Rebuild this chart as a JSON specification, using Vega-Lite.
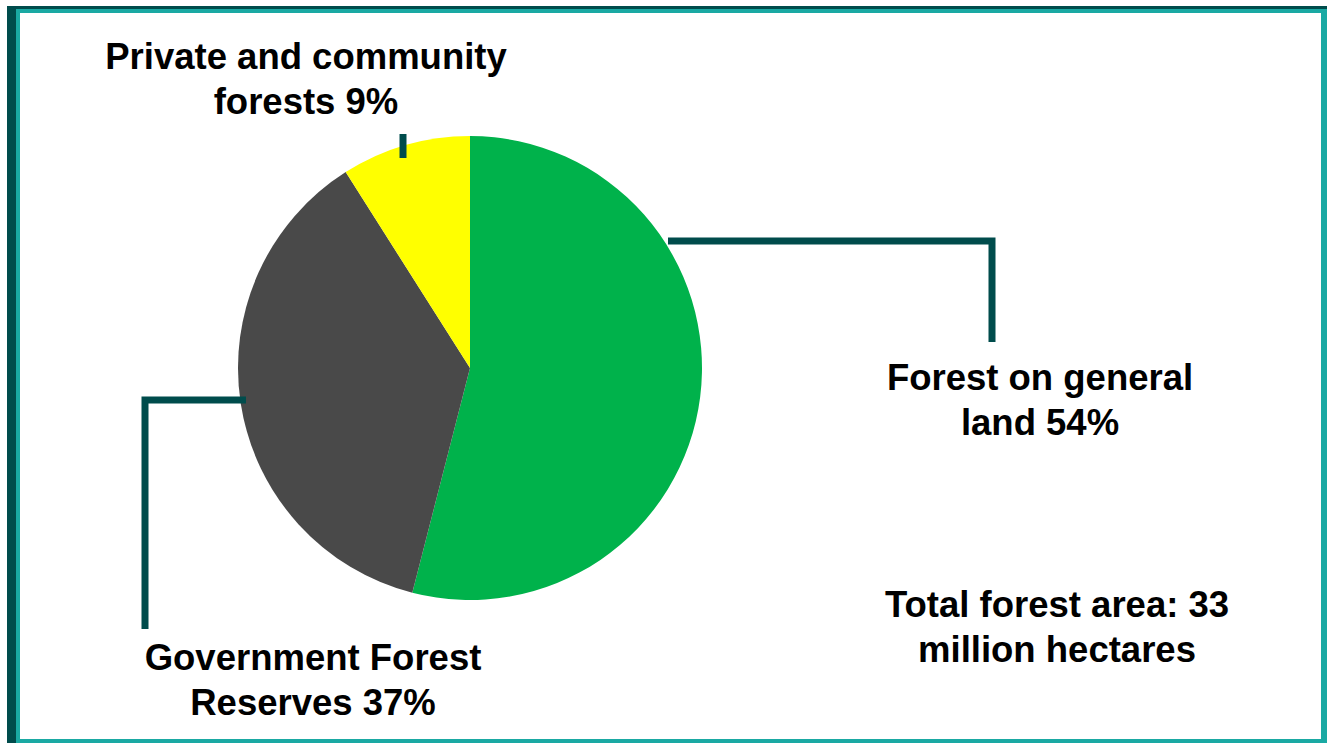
{
  "$schema": "https://vega.github.io/schema/vega-lite/v6.json",
  "width": 1327,
  "height": 743,
  "autosize": {"type": "fit", "contains": "padding"},
  "padding": 0,
  "background": "white",
  "config": {"view": {"stroke": null}},
  "resolve": {"scale": {"color": "independent"}},
  "datasets": {
    "frame": [
      {"part": "shadow", "x": 7, "x2": 1327, "y": 6, "y2": 743},
      {"part": "edge", "x": 16, "x2": 1327, "y": 9, "y2": 743},
      {"part": "inner", "x": 20, "x2": 1321, "y": 13, "y2": 739}
    ],
    "slices": [
      {"category": "Forest on general land", "share": 54},
      {"category": "Government Forest Reserves", "share": 37},
      {"category": "Private and community forests", "share": 9}
    ],
    "leaders": [
      {"g": "yellow", "i": 0, "x": 403, "y": 134},
      {"g": "yellow", "i": 1, "x": 403, "y": 158},
      {"g": "green", "i": 0, "x": 668, "y": 241},
      {"g": "green", "i": 1, "x": 992, "y": 241},
      {"g": "green", "i": 2, "x": 992, "y": 342},
      {"g": "gray", "i": 0, "x": 246, "y": 400},
      {"g": "gray", "i": 1, "x": 145, "y": 400},
      {"g": "gray", "i": 2, "x": 145, "y": 629}
    ],
    "labels": [
      {"label": "Private and community\nforests 9%", "x": 306, "y": 69},
      {"label": "Forest on general\nland 54%", "x": 1040, "y": 390},
      {"label": "Total forest area: 33\nmillion hectares", "x": 1057, "y": 617},
      {"label": "Government Forest\nReserves 37%", "x": 313, "y": 670}
    ]
  },
  "layer": [
    {
      "data": {"name": "frame"},
      "mark": {"type": "rect"},
      "encoding": {
        "x": {"field": "x", "type": "quantitative", "axis": null, "scale": {"domain": [0, 1327], "nice": false, "zero": false}},
        "x2": {"field": "x2"},
        "y": {"field": "y", "type": "quantitative", "axis": null, "scale": {"domain": [0, 743], "reverse": true, "nice": false, "zero": false}},
        "y2": {"field": "y2"},
        "color": {"field": "part", "type": "nominal", "legend": null, "scale": {"domain": ["shadow", "edge", "inner"], "range": ["#004c4c", "#1aa9a3", "#ffffff"]}},
        "order": {"field": "x", "sort": "ascending"}
      }
    },
    {
      "data": {"name": "slices"},
      "mark": {"type": "arc", "outerRadius": 232, "stroke": null},
      "encoding": {
        "x": {"datum": 470, "type": "quantitative", "axis": null, "scale": {"domain": [0, 1327], "nice": false, "zero": false}},
        "y": {"datum": 368, "type": "quantitative", "axis": null, "scale": {"domain": [0, 743], "reverse": true, "nice": false, "zero": false}},
        "theta": {"field": "share", "type": "quantitative", "stack": true},
        "order": {"field": "share", "sort": "descending"},
        "color": {"field": "category", "type": "nominal", "legend": null, "scale": {"domain": ["Forest on general land", "Government Forest Reserves", "Private and community forests"], "range": ["#00b24b", "#494949", "#ffff00"]}}
      }
    },
    {
      "data": {"name": "leaders"},
      "mark": {"type": "line", "color": "#004c4c", "strokeWidth": 7, "strokeCap": "butt", "strokeJoin": "miter"},
      "encoding": {
        "x": {"field": "x", "type": "quantitative", "axis": null, "scale": {"domain": [0, 1327], "nice": false, "zero": false}},
        "y": {"field": "y", "type": "quantitative", "axis": null, "scale": {"domain": [0, 743], "reverse": true, "nice": false, "zero": false}},
        "detail": {"field": "g", "type": "nominal"},
        "order": {"field": "i", "type": "quantitative"}
      }
    },
    {
      "data": {"name": "labels"},
      "mark": {"type": "text", "font": "Liberation Sans", "fontWeight": "bold", "fontSize": 36.5, "lineBreak": "\n", "lineHeight": 45, "align": "center", "baseline": "alphabetic", "color": "#000000"},
      "encoding": {
        "x": {"field": "x", "type": "quantitative", "axis": null, "scale": {"domain": [0, 1327], "nice": false, "zero": false}},
        "y": {"field": "y", "type": "quantitative", "axis": null, "scale": {"domain": [0, 743], "reverse": true, "nice": false, "zero": false}},
        "text": {"field": "label"}
      }
    }
  ]
}
